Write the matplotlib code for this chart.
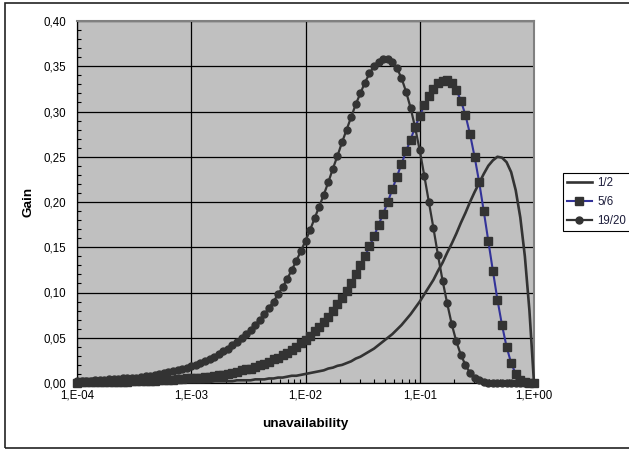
import matplotlib
matplotlib.use("Agg")
import matplotlib.pyplot as plt
from matplotlib.ticker import FixedLocator, FixedFormatter, FuncFormatter, MultipleLocator, LogLocator, NullFormatter
from matplotlib.patches import Rectangle

plt.rcParams['font.family'] = ['Liberation Sans', 'DejaVu Sans']

# ---------------- data ----------------
unavailability = [
    1.000e-4, 1.096e-4, 1.202e-4, 1.318e-4, 1.445e-4, 1.585e-4, 1.738e-4, 1.905e-4, 2.089e-4, 2.291e-4,
    2.512e-4, 2.754e-4, 3.020e-4, 3.311e-4, 3.631e-4, 3.981e-4, 4.365e-4, 4.786e-4, 5.248e-4, 5.754e-4,
    6.310e-4, 6.918e-4, 7.586e-4, 8.318e-4, 9.120e-4,
    1.000e-3, 1.096e-3, 1.202e-3, 1.318e-3, 1.445e-3, 1.585e-3, 1.738e-3, 1.905e-3, 2.089e-3, 2.291e-3,
    2.512e-3, 2.754e-3, 3.020e-3, 3.311e-3, 3.631e-3, 3.981e-3, 4.365e-3, 4.786e-3, 5.248e-3, 5.754e-3,
    6.310e-3, 6.918e-3, 7.586e-3, 8.318e-3, 9.120e-3,
    1.000e-2, 1.096e-2, 1.202e-2, 1.318e-2, 1.445e-2, 1.585e-2, 1.738e-2, 1.905e-2, 2.089e-2, 2.291e-2,
    2.512e-2, 2.754e-2, 3.020e-2, 3.311e-2, 3.631e-2, 3.981e-2, 4.365e-2, 4.786e-2, 5.248e-2, 5.754e-2,
    6.310e-2, 6.918e-2, 7.586e-2, 8.318e-2, 9.120e-2,
    1.000e-1, 1.096e-1, 1.202e-1, 1.318e-1, 1.445e-1, 1.585e-1, 1.738e-1, 1.905e-1, 2.089e-1, 2.291e-1,
    2.512e-1, 2.754e-1, 3.020e-1, 3.311e-1, 3.631e-1, 3.981e-1, 4.365e-1, 4.786e-1, 5.248e-1, 5.754e-1,
    6.310e-1, 6.918e-1, 7.586e-1, 8.318e-1, 9.120e-1,
    1.000,
]

gain_1_2 = [
    0.000, 0.000, 0.000, 0.000, 0.000, 0.000, 0.000, 0.000, 0.000, 0.000,
    0.000, 0.000, 0.000, 0.000, 0.000, 0.000, 0.000, 0.000, 0.001, 0.001,
    0.001, 0.001, 0.001, 0.001, 0.001, 0.001, 0.001, 0.001, 0.001, 0.001,
    0.002, 0.002, 0.002, 0.002, 0.002, 0.003, 0.003, 0.003, 0.003, 0.004,
    0.004, 0.004, 0.005, 0.005, 0.006, 0.006, 0.007, 0.008, 0.008, 0.009,
    0.010, 0.011, 0.012, 0.013, 0.014, 0.016, 0.017, 0.019, 0.020, 0.022,
    0.024, 0.027, 0.029, 0.032, 0.035, 0.038, 0.042, 0.046, 0.050, 0.054,
    0.059, 0.064, 0.070, 0.076, 0.083, 0.090, 0.098, 0.106, 0.114, 0.124,
    0.133, 0.144, 0.154, 0.165, 0.177, 0.188, 0.200, 0.211, 0.221, 0.231,
    0.240, 0.246, 0.250, 0.249, 0.244, 0.233, 0.213, 0.183, 0.140, 0.080,
    0.000,
]

gain_5_6 = [
    0.000, 0.001, 0.001, 0.001, 0.001, 0.001, 0.001, 0.001, 0.001, 0.001,
    0.001, 0.001, 0.002, 0.002, 0.002, 0.002, 0.002, 0.002, 0.003, 0.003,
    0.003, 0.003, 0.004, 0.004, 0.005, 0.005, 0.005, 0.006, 0.007, 0.007,
    0.008, 0.009, 0.009, 0.010, 0.011, 0.012, 0.014, 0.015, 0.016, 0.018,
    0.020, 0.021, 0.023, 0.026, 0.028, 0.031, 0.033, 0.037, 0.040, 0.044,
    0.048, 0.052, 0.057, 0.062, 0.067, 0.073, 0.080, 0.087, 0.094, 0.102,
    0.111, 0.120, 0.130, 0.140, 0.151, 0.162, 0.175, 0.187, 0.200, 0.214,
    0.228, 0.242, 0.256, 0.269, 0.283, 0.295, 0.307, 0.317, 0.325, 0.331,
    0.334, 0.335, 0.331, 0.324, 0.312, 0.296, 0.275, 0.250, 0.222, 0.190,
    0.157, 0.124, 0.092, 0.064, 0.040, 0.022, 0.010, 0.003, 0.001, 0.000,
    0.000,
]

gain_19_20 = [
    0.002, 0.002, 0.002, 0.002, 0.003, 0.003, 0.003, 0.004, 0.004, 0.004,
    0.005, 0.005, 0.006, 0.006, 0.007, 0.008, 0.008, 0.009, 0.010, 0.011,
    0.012, 0.013, 0.014, 0.016, 0.017, 0.019, 0.020, 0.022, 0.024, 0.027,
    0.029, 0.032, 0.035, 0.038, 0.042, 0.045, 0.050, 0.054, 0.059, 0.064,
    0.070, 0.076, 0.083, 0.090, 0.098, 0.106, 0.115, 0.125, 0.135, 0.146,
    0.157, 0.169, 0.182, 0.195, 0.208, 0.222, 0.237, 0.251, 0.266, 0.280,
    0.294, 0.308, 0.320, 0.332, 0.342, 0.350, 0.355, 0.358, 0.358, 0.355,
    0.348, 0.337, 0.322, 0.304, 0.282, 0.257, 0.229, 0.200, 0.171, 0.141,
    0.113, 0.088, 0.065, 0.046, 0.031, 0.020, 0.011, 0.006, 0.003, 0.001,
    0.000, 0.000, 0.000, 0.000, 0.000, 0.000, 0.000, 0.000, 0.000, 0.000,
    0.000,
]

series_labels = ["1/2", "5/6", "19/20"]
x_tick_values = [1e-4, 1e-3, 1e-2, 1e-1, 1e0]
x_tick_labels = ["1,E-04", "1,E-03", "1,E-02", "1,E-01", "1,E+00"]
x_title = "unavailability"
y_title = "Gain"

# ---------------- figure ----------------
W, H = 629, 450
fig = plt.figure(figsize=(W / 100, H / 100), dpi=100)
fig.patch.set_facecolor("white")

# chart-area border
fig.add_artist(Rectangle((4.5 / W, 2 / H), 700 / W, (447.5 - 2) / H, transform=fig.transFigure,
                         fill=False, edgecolor="#222222", linewidth=1.2))

L, R, T, B = 77, 534, 21, 383
ax = fig.add_axes([L / W, (H - B) / H, (R - L) / W, (B - T) / H])
ax.set_facecolor("#c0c0c0")

dark = "#333333"
ax.plot(unavailability, gain_1_2, color=dark, lw=1.9, label=series_labels[0], clip_on=False, zorder=3)
ax.plot(unavailability, gain_5_6, color="#333399", lw=1.5, marker="s", ms=5.6,
        mfc=dark, mec=dark, label=series_labels[1], clip_on=False, zorder=4)
ax.plot(unavailability, gain_19_20, color=dark, lw=1.6, marker="o", ms=5.0,
        mfc=dark, mec=dark, label=series_labels[2], clip_on=False, zorder=5)

ax.set_xscale("log")
ax.set_xlim(1e-4, 1)
ax.set_ylim(0, 0.40)

ax.xaxis.set_major_locator(FixedLocator(x_tick_values))
ax.xaxis.set_major_formatter(FixedFormatter(x_tick_labels))
ax.xaxis.set_minor_locator(LogLocator(base=10, subs=range(2, 10), numticks=20))
ax.xaxis.set_minor_formatter(NullFormatter())
ax.yaxis.set_major_locator(MultipleLocator(0.05))
ax.yaxis.set_minor_locator(MultipleLocator(0.01))
ax.yaxis.set_major_formatter(FuncFormatter(lambda v, p: ("%.2f" % v).replace(".", ",")))

ax.grid(True, which="major", color="black", lw=0.9)
ax.set_axisbelow(True)
ax.tick_params(axis="both", which="major", length=0, labelsize=8.3, colors="black")
ax.tick_params(axis="y", which="major", pad=8)
ax.tick_params(axis="x", which="major", pad=5)
ax.tick_params(axis="both", which="minor", direction="in", length=3, width=0.8, color="black")

for s in ("top", "right"):
    ax.spines[s].set_color("#808080")
    ax.spines[s].set_linewidth(1.5)
for s in ("left", "bottom"):
    ax.spines[s].set_color("black")
    ax.spines[s].set_linewidth(0.9)

ax.set_xlabel(x_title, fontsize=9.7, fontweight="bold")
ax.xaxis.set_label_coords(0.5, (B - 418.5) / (B - T))
ax.set_ylabel(y_title, fontsize=9.7, fontweight="bold")
ax.yaxis.label.set_va("center")
ax.yaxis.set_label_coords((28 - L) / (R - L), 0.5)

leg = fig.legend(loc="upper left", bbox_to_anchor=(563 / W, 1 - 173 / H), borderaxespad=0,
                 frameon=True, fancybox=False, framealpha=1, edgecolor="black",
                 fontsize=8.3, borderpad=0.35, handlelength=2.15, handletextpad=0.45,
                 labelspacing=0.62, numpoints=1)
leg.get_frame().set_linewidth(0.8)
for t in leg.get_texts():
    t.set_color("#1c1c3a")

fig.savefig("out.png", dpi=100)
